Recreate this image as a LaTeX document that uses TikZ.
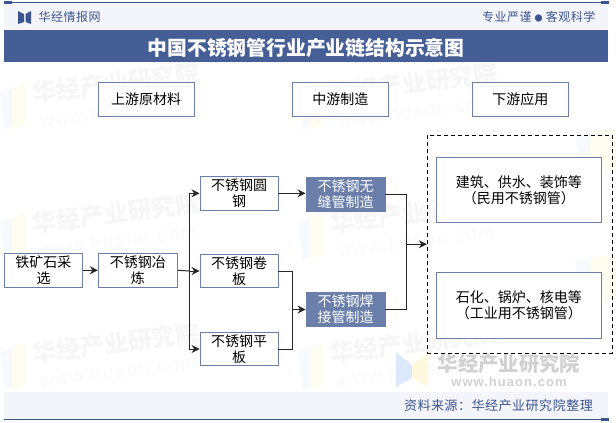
\documentclass[tikz,border=0pt]{standalone}
\usepackage{fontspec}
\setmainfont{Noto Sans CJK SC}
\newfontfamily\spacedfont[LetterSpace=4]{Noto Sans CJK SC}
\newfontfamily\markfont[LetterSpace=8]{Liberation Sans}
\usetikzlibrary{positioning,arrows.meta}
\definecolor{bandblue}{HTML}{455F96}
\definecolor{edgeblue}{HTML}{6A80AA}
\definecolor{paleband}{HTML}{F4F5FA}
\definecolor{inkblue}{HTML}{3A5590}
\definecolor{logoblue}{HTML}{DCE8FB}
\definecolor{logoyellow}{HTML}{FFF8DF}
\tikzset{
  box/.style={draw=edgeblue,line width=0.9pt,fill=white,inner sep=0pt,align=center,font=\fontsize{14}{16}\selectfont},
  stagebox/.style={box,minimum width=96pt,minimum height=34pt},
  itembox/.style={box,minimum width=79pt,minimum height=33.5pt},
  darkbox/.style={itembox,fill=edgeblue,draw=edgeblue,text=white,minimum height=34.5pt},
  usebox/.style={box,minimum width=165pt,minimum height=65.5pt},
  wire/.style={line width=1pt,black!85},
  headtext/.style={text=inkblue,inner sep=0pt,font=\spacedfont\fontsize{13}{15}\selectfont}
}
\begin{document}
\begin{tikzpicture}[x=1pt,y=-1pt,>={Stealth[length=8pt,width=8pt]}]
\useasboundingbox (0,0) rectangle (616,423);
% watermarks
\foreach \wx in {0,298}{
  \foreach \wy in {0,130,260}{
    \fill[logoblue!25] (\wx+0,\wy+92) -- (\wx+25,\wy+83) -- (\wx+25,\wy+120) -- (\wx+5,\wy+130) -- cycle;
    \fill[logoyellow!45] (\wx+12,\wy+88) -- (\wx+25,\wy+83) -- (\wx+25,\wy+125) -- (\wx+12,\wy+130) -- cycle;
    \node[rotate=7,text=black!3.5,inner sep=0pt,font=\bfseries\fontsize{24}{26}\selectfont] at (\wx+116,\wy+83) {华经产业研究院};
    \node[rotate=7,text=black!2.5,inner sep=0pt,font=\markfont\fontsize{19}{21}\selectfont] at (\wx+118,\wy+111) {www.huaon.com};
  }
}
\fill[logoblue!25] (575,137) -- (590,133) -- (590,172) -- (580,176) -- cycle;
\fill[logoyellow!45] (590,133) -- (616,128) -- (616,170) -- (590,172) -- cycle;
\fill[logoblue!25] (575,262) -- (590,258) -- (590,302) -- (580,306) -- cycle;
\fill[logoyellow!45] (590,258) -- (616,253) -- (616,300) -- (590,302) -- cycle;
% header and footer
\fill[paleband] (4,3) rectangle (608,30);
\fill[paleband] (4,392) rectangle (608,419);
\draw[inkblue,line width=1pt] (4,2) -- (608,2);
\draw[inkblue,line width=1pt] (4,419) -- (608,419);
\fill[inkblue] (4,1) rectangle (12,4);
\fill[inkblue] (601,1) rectangle (609,4);
\fill[inkblue] (601,418) rectangle (609,421);
\fill[inkblue] (18,11) -- (24,14) -- (24,22) -- (18,24) -- cycle;
\fill[inkblue] (25.5,14) -- (31,11) -- (31,24) -- (25.5,22) -- cycle;
\node[headtext,anchor=west,font=\spacedfont\fontsize{12}{15}\selectfont] (site) at (38.5,17) {华经情报网};
\node[headtext,anchor=east,font=\spacedfont\fontsize{12}{15}\selectfont] (motto) at (595.5,16.5) {专业严谨 {\fontsize{8}{9}\selectfont ●} 客观科学};
\node[fill=bandblue,minimum width=604pt,minimum height=32pt,inner sep=0pt] (band) at (306,46) {};
\node[text=white,inner sep=0pt,font=\bfseries\fontsize{19.8}{22}\selectfont] (title) at (306,47.5) {中国不锈钢管行业产业链结构示意图};
\node[headtext,anchor=east] (source) at (593,405.5) {资料来源：华经产业研究院整理};
% bottom right logo
\fill[logoblue] (396,352) -- (412,365) -- (412,378) -- (396,387) -- cycle;
\fill[logoyellow] (412,365) -- (428,353) -- (428,387) -- (412,378) -- cycle;
\node[text=black!18,inner sep=0pt,font=\bfseries\fontsize{20.3}{22}\selectfont] (markA) at (509,363.5) {华经产业研究院};
\node[text=black!18,inner sep=0pt,font=\markfont\bfseries\fontsize{13}{15}\selectfont] (markB) at (509,382) {www.huaon.com};
% stage headers
\node[stagebox] (up) at (146,99) {上游原材料};
\node[stagebox] (mid) at (340.3,99) {中游制造};
\node[stagebox] (down) at (520.3,99) {下游应用};
% process boxes
\node[itembox,minimum width=78pt] (ore) at (43.5,270.2) {铁矿石采\\选};
\node[itembox] (smelt) at (137.8,270.2) {不锈钢冶\\炼};
\node[itembox,minimum width=78pt] (bar) at (239,193.3) {不锈钢圆\\钢};
\node[itembox,minimum width=78pt] (coil) at (239,271) {不锈钢卷\\板};
\node[itembox,minimum width=78pt] (plate) at (239,349) {不锈钢平\\板};
\node[darkbox] (seamless) at (345.5,194.3) {不锈钢无\\缝管制造};
\node[darkbox] (welded) at (345.5,309.5) {不锈钢焊\\接管制造};
% applications
\node[draw=black,dash pattern=on 4pt off 3pt,line width=0.9pt,minimum width=185pt,minimum height=218pt,inner sep=0pt] (group) at (519.8,244.2) {};
\node[usebox] (civil) at (518.8,189.8) {建筑、供水、装饰等\\（民用不锈钢管）};
\node[usebox] (indust) at (518.8,305.5) {石化、锅炉、核电等\\（工业用不锈钢管）};
% connectors
\coordinate (busA) at (189,271);
\coordinate (busB) at (292.5,309.5);
\coordinate (busC) at (406,244.2);
\draw[wire,->] (ore) -- (smelt);
\draw[wire] (smelt.east) -- (busA);
\draw[wire,->] (busA) |- (bar);
\draw[wire,->] (busA) -- (coil);
\draw[wire,->] (busA) |- (plate);
\draw[wire,->] (bar) -- (bar-|seamless.west);
\draw[wire] (coil.east) -| (busB);
\draw[wire] (plate.east) -| (busB);
\draw[wire,->] (busB) -- (welded);
\draw[wire] (seamless.east) -| (busC);
\draw[wire] (welded.east) -| (busC);
\draw[wire,->] (busC) -- (group);
\end{tikzpicture}
\end{document}
